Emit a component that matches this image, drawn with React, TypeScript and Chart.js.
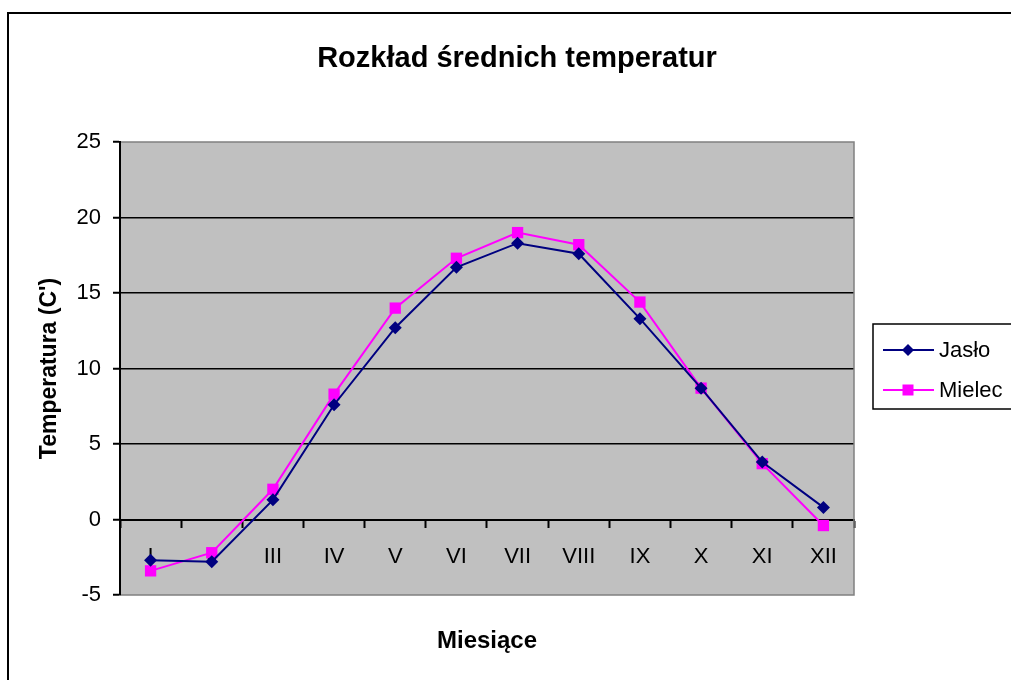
import React, { useEffect, useRef } from "react";
import { Chart, registerables } from "chart.js";

Chart.register(...registerables);

const months = ["I", "II", "III", "IV", "V", "VI", "VII", "VIII", "IX", "X", "XI", "XII"];
const jasloTemps = [-2.7, -2.8, 1.3, 7.6, 12.7, 16.7, 18.3, 17.6, 13.3, 8.7, 3.8, 0.8];
const mielecTemps = [-3.4, -2.2, 2.0, 8.3, 14.0, 17.3, 19.0, 18.2, 14.4, 8.7, 3.7, -0.4];
const seriesNames = ["Jasło", "Mielec"];
const chartTitle = "Rozkład średnich temperatur";
const xTitle = "Miesiące";
const yTitle = "Temperatura (C')";
const yMin = -5;
const yMax = 25;
const yStep = 5;

const FONT = '"Liberation Sans", Arial, sans-serif';
const NAVY = "#000080";
const MAGENTA = "#FF00FF";
const PLOT_BG = "#C0C0C0";

const decorPlugin = {
  id: "decor",
  beforeDraw(chart: any) {
    const { ctx, chartArea } = chart;
    ctx.save();
    ctx.fillStyle = "#FFFFFF";
    ctx.fillRect(0, 0, chart.width, chart.height);
    ctx.strokeStyle = "#000000";
    ctx.lineWidth = 2;
    ctx.strokeRect(8, 13, 1200, 900);
    ctx.fillStyle = PLOT_BG;
    ctx.fillRect(chartArea.left, chartArea.top, chartArea.right - chartArea.left, chartArea.bottom - chartArea.top);
    ctx.restore();
  },
  beforeDatasetsDraw(chart: any) {
    const { ctx, chartArea } = chart;
    ctx.save();
    ctx.strokeStyle = "#808080";
    ctx.lineWidth = 1.5;
    ctx.beginPath();
    ctx.moveTo(chartArea.left + 1, chartArea.top);
    ctx.lineTo(chartArea.right, chartArea.top);
    ctx.lineTo(chartArea.right, chartArea.bottom);
    ctx.lineTo(chartArea.left + 1, chartArea.bottom);
    ctx.stroke();
    ctx.restore();
  },
  afterDraw(chart: any) {
    const { ctx, chartArea } = chart;
    ctx.save();
    // main title
    ctx.fillStyle = "#000000";
    ctx.font = `bold 29px ${FONT}`;
    ctx.textAlign = "center";
    ctx.textBaseline = "alphabetic";
    ctx.fillText(chartTitle, 517, 67);
    // x axis title
    ctx.font = `bold 24px ${FONT}`;
    ctx.fillText(xTitle, (chartArea.left + chartArea.right) / 2, 648);

    // legend
    const lx = 873;
    const ly = 324;
    ctx.fillStyle = "#FFFFFF";
    ctx.fillRect(lx, ly, 200, 85);
    ctx.strokeStyle = "#000000";
    ctx.lineWidth = 1.5;
    ctx.strokeRect(lx, ly, 200, 85);
    const rows = [
      { name: seriesNames[0], color: NAVY, y: 350, shape: "diamond" },
      { name: seriesNames[1], color: MAGENTA, y: 390, shape: "square" },
    ];
    rows.forEach((r) => {
      ctx.strokeStyle = r.color;
      ctx.lineWidth = 2;
      ctx.beginPath();
      ctx.moveTo(883, r.y);
      ctx.lineTo(934, r.y);
      ctx.stroke();
      ctx.fillStyle = r.color;
      if (r.shape === "diamond") {
        ctx.beginPath();
        ctx.moveTo(908, r.y - 6);
        ctx.lineTo(914, r.y);
        ctx.lineTo(908, r.y + 6);
        ctx.lineTo(902, r.y);
        ctx.closePath();
        ctx.fill();
      } else {
        ctx.fillRect(902.5, r.y - 5.5, 11, 11);
      }
      ctx.fillStyle = "#000000";
      ctx.font = `22px ${FONT}`;
      ctx.textAlign = "left";
      ctx.textBaseline = "middle";
      ctx.fillText(r.name, 939, r.y + 1);
    });
    ctx.restore();
  },
};

export default function App() {
  const canvasRef = useRef<HTMLCanvasElement | null>(null);

  useEffect(() => {
    if (!canvasRef.current) return;
    const chart = new Chart(canvasRef.current, {
      type: "line",
      data: {
        labels: months,
        datasets: [
          {
            label: seriesNames[0],
            data: jasloTemps,
            borderColor: NAVY,
            backgroundColor: NAVY,
            borderWidth: 2,
            pointStyle: "rectRot",
            pointRadius: 6.5,
            pointBorderWidth: 0,
            pointBackgroundColor: NAVY,
            tension: 0,
          },
          {
            label: seriesNames[1],
            data: mielecTemps,
            borderColor: MAGENTA,
            backgroundColor: MAGENTA,
            borderWidth: 2,
            pointStyle: "rect",
            pointRadius: 8,
            pointBorderWidth: 0,
            pointBackgroundColor: MAGENTA,
            tension: 0,
          },
        ],
      },
      options: {
        responsive: false,
        animation: false,
        devicePixelRatio: 1,
        layout: { padding: { left: 0, top: 142, right: 157, bottom: 85 } },
        plugins: {
          legend: { display: false },
          title: { display: false },
          tooltip: { enabled: false },
        },
        scales: {
          x: {
            type: "category",
            position: { y: 0 },
            offset: true,
            grid: {
              offset: true,
              drawOnChartArea: false,
              drawTicks: true,
              tickLength: 7,
              tickColor: "#000000",
              tickWidth: 2,
              color: "#000000",
            },
            border: { display: true, color: "#000000", width: 2 },
            ticks: {
              color: "#000000",
              font: { family: FONT, size: 22 },
              padding: 17,
              maxRotation: 0,
              autoSkip: false,
            },
          },
          y: {
            min: yMin,
            max: yMax,
            position: "left",
            afterFit(scale: any) {
              scale.width = 120;
            },
            ticks: {
              stepSize: yStep,
              color: "#000000",
              font: { family: FONT, size: 22 },
              padding: 12,
            },
            grid: {
              color: (c: any) =>
                c.tick && (c.tick.value === yMin || c.tick.value === yMax) ? "rgba(0,0,0,0)" : "#000000",
              lineWidth: 1.5,
              drawTicks: true,
              tickLength: 7,
              tickColor: "#000000",
              tickWidth: 2,
            },
            border: { display: true, color: "#000000", width: 2 },
            title: {
              display: true,
              text: yTitle,
              color: "#000000",
              font: { family: FONT, size: 23, weight: "bold" },
              padding: { top: 36, bottom: 0 },
            },
          },
        },
      },
      plugins: [decorPlugin],
    } as any);
    return () => chart.destroy();
  }, []);

  return (
    <div style={{ position: "fixed", left: 0, top: 0, width: 1011, height: 680, background: "#fff" }}>
      <canvas ref={canvasRef} width={1011} height={680} style={{ display: "block" }} />
    </div>
  );
}
